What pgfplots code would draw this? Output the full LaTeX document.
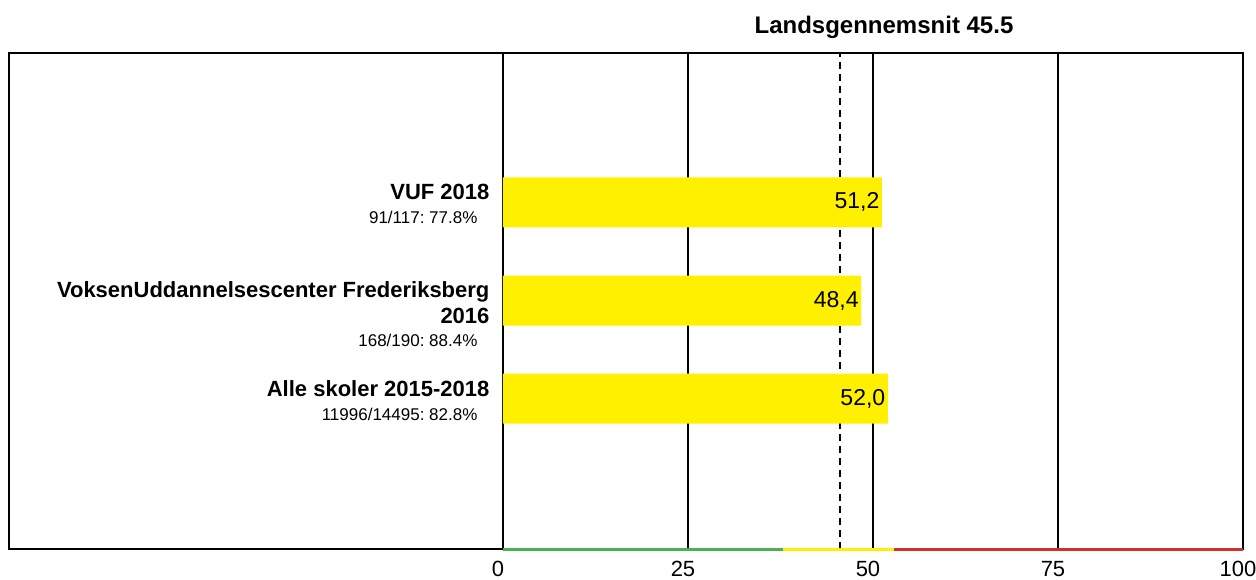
\documentclass[border=0pt]{standalone}
\usepackage{pgfplots}
\pgfplotsset{compat=1.18}
\usepackage{fontspec}
\setmainfont{Liberation Sans}
\definecolor{baryellow}{RGB}{255,240,0}
\definecolor{zgreen}{RGB}{76,175,80}
\definecolor{zyellow}{RGB}{255,238,0}
\definecolor{zred}{RGB}{211,47,47}
\frenchspacing
\begin{document}
\begin{tikzpicture}
\useasboundingbox (-503pt,-30pt) rectangle (753pt,549pt);
\begin{axis}[
  at={(0pt,0pt)}, anchor=south west,
  scale only axis, width=740pt, height=496pt,
  xmin=0, xmax=100, ymin=-0.53, ymax=4.52,
  clip=false,
  xtick={0,25,50,75,100},
  xmajorgrids, grid style={black, line width=1.6pt},
  axis line style={black, line width=2.2pt},
  major tick length=0pt,
  ytick={1,2,3},
  yticklabels={
    {{\bfseries Alle skoler 2015-2018}\\[-2pt]{\fontsize{17}{20}\selectfont 11996/14495: 82.8\%\hspace*{12pt}}},
    {{\bfseries VoksenUddannelsescenter Frederiksberg}\\{\bfseries 2016}\\[-3pt]{\fontsize{17}{20}\selectfont 168/190: 88.4\%\hspace*{12pt}}},
    {{\bfseries VUF 2018}\\[-2pt]{\fontsize{17}{20}\selectfont 91/117: 77.8\%\hspace*{12pt}}}
  },
  yticklabel style={align=right, anchor=north east, yshift=22pt, xshift=-10pt, font=\fontsize{22}{26}\selectfont},
  xticklabel style={font=\fontsize{22}{26}\selectfont, anchor=base, yshift=-27pt, xshift=-5pt},
  /pgf/number format/assume math mode=true,
]
\addplot[black, dashed, line width=2pt, dash pattern=on 7pt off 5pt] coordinates {(45.5,-0.53) (45.5,4.52)};
\addplot[xbar, bar width=50pt, fill=baryellow, draw=none,
  point meta=explicit symbolic,
  nodes near coords,
  nodes near coords style={anchor=east, xshift=1pt, font=\fontsize{23}{28}\selectfont, text=black}]
  coordinates {(52.0,1) [52,0] (48.4,2) [48,4] (51.2,3) [51,2]};
\addplot[zgreen, line width=3pt] coordinates {(0,-0.53) (37.8,-0.53)};
\addplot[zyellow, line width=3pt] coordinates {(37.8,-0.53) (52.9,-0.53)};
\addplot[zred, line width=3pt] coordinates {(52.9,-0.53) (100,-0.53)};
\end{axis}
\draw[black, line width=2.2pt] (0pt,0pt) -- (-494pt,0pt) -- (-494pt,496pt) -- (0pt,496pt);
\node[anchor=base, font=\bfseries\fontsize{24}{28}\selectfont] at (381pt,515pt) {Landsgennemsnit 45.5};
\end{tikzpicture}
\end{document}
